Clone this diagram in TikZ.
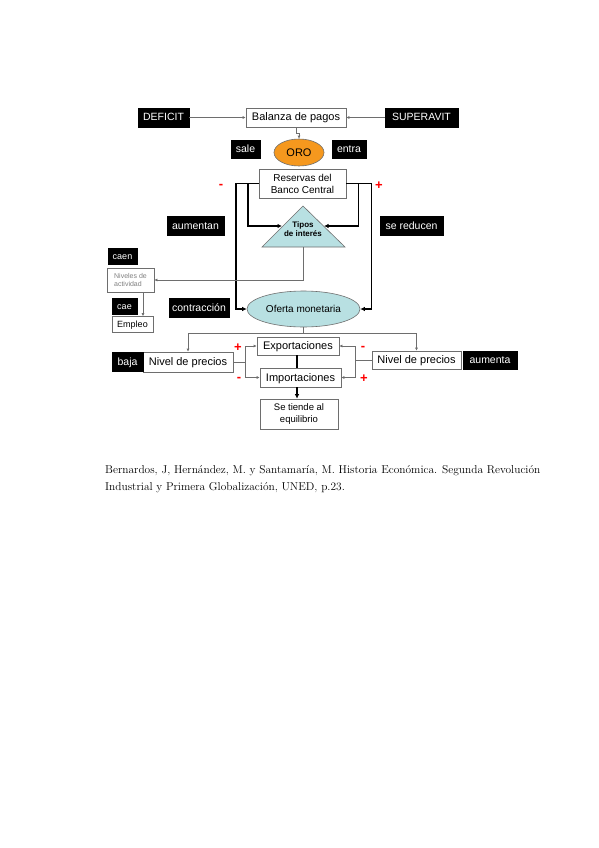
\documentclass[tikz,border=0pt]{standalone}
\usepackage{fontspec}
\setsansfont{Liberation Sans}
\usetikzlibrary{arrows.meta,shapes.geometric}
\definecolor{oroc}{RGB}{245,152,30}
\definecolor{azul}{RGB}{184,224,226}
\definecolor{borde}{RGB}{110,110,110}
\tikzset{
  one/.style={text height=7.5pt, text depth=0.5pt},
  wbox/.style={draw=borde, line width=0.6pt, fill=white, inner sep=0pt, align=center, font=\sffamily\fontsize{11}{12}\selectfont},
  bbox/.style={draw=black, fill=black, text=white, inner sep=0pt, one, font=\sffamily\fontsize{10.5}{12}\selectfont},
  conn/.style={draw=borde, line width=0.6pt},
  arr/.style={conn, -{Latex[length=3pt,width=3pt]}},
  thk/.style={draw=black, line width=1.6pt},
  tarr/.style={thk, -{Latex[length=4.5pt,width=4.5pt]}},
  sign/.style={text=red, font=\sffamily\bfseries\fontsize{13}{13}\selectfont, inner sep=0pt},
}
\begin{document}
\begin{tikzpicture}[x=1pt,y=-1pt]
\useasboundingbox (0,0) rectangle (599,848);
\fill[white] (0,0) rectangle (599,848);
% top row
\node[bbox, minimum width=51pt, minimum height=19pt] (def) at (163.5,117.5) {DEFICIT};
\node[wbox, one, minimum width=100pt, minimum height=19pt] (bal) at (296,117.5) {Balanza de pagos};
\node[bbox, minimum width=73pt, minimum height=19pt] (sup) at (421.5,117.5) {SUPERAVIT};
\draw[arr] (def) -- (bal);
\draw[arr] (sup) -- (bal);
% oro
\node[bbox, minimum width=29pt, minimum height=18pt] (sale) at (245.5,149.5) {sale};
\node[ellipse, draw=borde, line width=0.6pt, fill=oroc, minimum width=50pt, minimum height=27pt, inner sep=0pt, one, font=\sffamily\fontsize{11}{12}\selectfont] (oro) at (299,152.5) {ORO};
\node[bbox, minimum width=34pt, minimum height=18pt] (entra) at (349,149.5) {entra};
\draw[arr] (bal.south) -- ++(0,6) -| (oro.north);
% reservas
\node[wbox, minimum width=87pt, minimum height=29pt, font=\sffamily\fontsize{10}{12}\selectfont] (res) at (302.5,183.5) {Reservas del\\Banco Central};
\node[sign] (m1) at (221,186) {-};
\node[sign] (p1) at (379,186) {+};
% triangle
\coordinate (tA) at (303,206);
\coordinate (tBR) at (345,247);
\coordinate (tBL) at (262,247);
\coordinate (tB) at (303,247);
\coordinate (tL) at (282,226);
\coordinate (tR) at (324,226);
\draw[draw=borde, line width=0.6pt, fill=azul] (tA) -- (tBR) -- (tBL) -- cycle;
\node[align=center, inner sep=0pt, font=\sffamily\bfseries\fontsize{8}{9.5}\selectfont] (tipos) at (303,229) {Tipos\\de interés};
\node[bbox, minimum width=57pt, minimum height=19pt] (aum) at (195.5,225.5) {aumentan};
\node[bbox, minimum width=63pt, minimum height=19pt] (sred) at (411.5,225.5) {se reducen};
% oferta
\node[ellipse, draw=borde, line width=0.6pt, fill=azul, minimum width=113pt, minimum height=36pt, inner sep=0pt, one, font=\sffamily\fontsize{10}{12}\selectfont] (ofe) at (303.5,309) {Oferta monetaria};
\draw[tarr] (res.west) -- ++(-23,0) |- (ofe.west);
\draw[tarr] ([xshift=-11pt]res.west) |- (tL);
\draw[tarr] (res.east) -- ++(25,0) |- (ofe.east);
\draw[tarr] ([xshift=12pt]res.east) |- (tR);
% left side
\node[bbox, minimum width=29pt, minimum height=16pt, text height=6.5pt, font=\sffamily\fontsize{9}{10}\selectfont] (caen) at (122.5,256) {caen};
\node[wbox, minimum width=47pt, minimum height=24pt, align=left, text=gray, font=\sffamily\fontsize{7}{8.5}\selectfont] (niv) at (130.5,280) {Niveles de\\actividad};
\node[bbox, minimum width=25pt, minimum height=16pt, text height=6.5pt, font=\sffamily\fontsize{9}{10}\selectfont] (cae) at (124.5,306.5) {cae};
\node[wbox, one, text height=6.8pt, minimum width=41pt, minimum height=16pt, font=\sffamily\fontsize{9}{10}\selectfont] (emp) at (132.5,324.5) {Empleo};
\node[bbox, minimum width=60pt, minimum height=19pt] (contr) at (199,307.5) {contracción};
\draw[arr] (tB) |- (niv.east);
\draw[arr] ([xshift=12.5pt]niv.south) -- ([xshift=10.5pt]emp.north);
% prices
\node[wbox, one, minimum width=90pt, minimum height=20pt] (nivL) at (188,362) {Nivel de precios};
\node[bbox, minimum width=31pt, minimum height=19pt] (baja) at (127.5,362) {baja};
\node[wbox, one, minimum width=82pt, minimum height=18pt] (exp) at (298,346) {Exportaciones};
\node[wbox, one, minimum width=81pt, minimum height=19pt] (imp) at (300.5,377.5) {Importaciones};
\node[wbox, one, minimum width=89pt, minimum height=18pt] (nivR) at (416.5,360) {Nivel de precios};
\node[bbox, minimum width=54pt, minimum height=18pt] (aum2) at (490,360) {aumenta};
\node[wbox, minimum width=78pt, minimum height=30pt, font=\sffamily\fontsize{9.5}{12}\selectfont] (eq) at (299,414) {Se tiende al\\equilibrio};
\draw[conn] (ofe.south) -- ++(0,6) coordinate (split);
\draw[arr] (split) -| (nivL.north);
\draw[arr] (split) -| (nivR.north);
\draw[arr] (nivL.east) -- ++(12,0) |- (exp.west);
\draw[arr] (nivL.east) -- ++(12,0) |- (imp.west);
\draw[arr] (nivR.west) -- ++(-16,0) |- (exp.east);
\draw[arr] (nivR.west) -- ++(-16,0) |- (imp.east);
\draw[thk] ([xshift=-1pt]exp.south) -- ([xshift=-3.5pt]imp.north);
\draw[tarr] ([xshift=-3.5pt]imp.south) -- ([xshift=-2pt]eq.north);
\node[sign] (p2) at (238,348) {+};
\node[sign] (m2) at (239,379) {-};
\node[sign] (m3) at (363,348) {-};
\node[sign] (p3) at (364,379) {+};
% caption
\node[anchor=north west, align=left, inner sep=0pt, font=\fontsize{11.4}{17}\selectfont] (cap) at (105,465) {Bernardos, J, Hernández, M. y Santamaría, M. Historia Económica. Segunda Revolución\\Industrial y Primera Globalización, UNED, p.23.};
\end{tikzpicture}
\end{document}
